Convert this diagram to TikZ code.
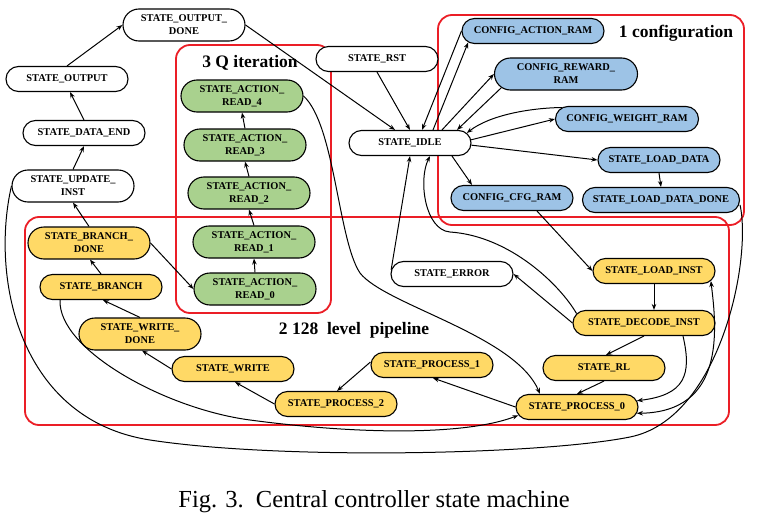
\documentclass[tikz,border=0pt]{standalone}
\usepackage{fontspec}
\setmainfont{Liberation Serif}
\usepackage{tikz}
\usetikzlibrary{shapes.misc, arrows.meta}
\definecolor{stateG}{RGB}{169,209,142}
\definecolor{stateB}{RGB}{157,195,230}
\definecolor{stateY}{RGB}{255,217,102}
\definecolor{zoneR}{RGB}{235,30,38}
\tikzstyle{fsm}=[rounded rectangle, draw=black, line width=1.1pt, minimum width=122pt, minimum height=25pt, inner xsep=0pt, align=center, font=\bfseries\fontsize{10.4}{13}\selectfont]
\tikzstyle{ctrl}=[fsm, fill=white]
\tikzstyle{qit}=[fsm, fill=stateG, minimum height=32pt]
\tikzstyle{conf}=[fsm, fill=stateB]
\tikzstyle{pipe}=[fsm, fill=stateY]
\tikzstyle{twoline}=[minimum height=32pt]
\tikzstyle{zone}=[draw=zoneR, line width=1.8pt, rounded corners=14pt]
\tikzstyle{zonetext}=[font=\bfseries\fontsize{17.5}{20}\selectfont]
\tikzstyle{trans}=[line width=1pt, -{Stealth[length=6pt,width=4.5pt]}]

\begin{document}
\begin{tikzpicture}[x=10pt, y=10pt]
	\useasboundingbox (0,0) rectangle (75.8,-51.4);

	% Groups
	\draw[zone] (17.6,-4.5) rectangle (33.1,-31.3);
	\draw[zone] (43.8,-1.5) rectangle (74.4,-22.5);
	\draw[zone] (2.5,-21.7) rectangle (72.9,-42.5);
	\node[zonetext] (tagQ) at (25.0,-6.3) {3 Q iteration};
	\node[zonetext] (tagConf) at (67.6,-3.3) {1 configuration};
	\node[zonetext] (tagPipe) at (35.4,-33.0) {2 128\ \ level\ \ pipeline};

	% Control states
	\node[ctrl, twoline] (outDone) at (18.4,-2.5) {STATE\_OUTPUT\_\\DONE};
	\node[ctrl] (output) at (6.7,-7.9) {STATE\_OUTPUT};
	\node[ctrl] (dataEnd) at (8.4,-13.3) {STATE\_DATA\_END};
	\node[ctrl, twoline] (updInst) at (7.3,-18.6) {STATE\_UPDATE\_\\INST};
	\node[ctrl] (rst) at (37.7,-5.9) {STATE\_RST};
	\node[ctrl] (idle) at (41.0,-14.3) {STATE\_IDLE};
	\node[ctrl] (error) at (45.2,-27.4) {STATE\_ERROR};

	% Q iteration
	\foreach \i/\x/\y in {0/25.5/-28.9, 1/25.4/-24.2, 2/24.9/-19.3, 3/24.5/-14.5, 4/24.2/-9.6}{
		\node[qit] (rd\i) at (\x,\y) {STATE\_ACTION\_\\READ\_\i};
	}

	% Configuration
	\node[conf, minimum width=142pt] (cfgAction) at (53.3,-3.1) {CONFIG\_ACTION\_RAM};
	\node[conf, twoline, minimum width=143pt] (cfgReward) at (56.6,-7.4) {CONFIG\_REWARD\_\\RAM};
	\node[conf, minimum width=143pt] (cfgWeight) at (62.7,-11.9) {CONFIG\_WEIGHT\_RAM};
	\node[conf] (loadData) at (65.9,-16.0) {STATE\_LOAD\_DATA};
	\node[conf] (cfgCfg) at (51.2,-19.8) {CONFIG\_CFG\_RAM};
	\node[conf, minimum width=157pt] (loadDone) at (66.1,-20.0) {STATE\_LOAD\_DATA\_DONE};

	% Pipeline
	\node[pipe, twoline] (brDone) at (8.9,-24.3) {STATE\_BRANCH\_\\DONE};
	\node[pipe] (branch) at (10.1,-28.7) {STATE\_BRANCH};
	\node[pipe, twoline] (wrDone) at (14.0,-33.4) {STATE\_WRITE\_\\DONE};
	\node[pipe] (write) at (23.3,-36.9) {STATE\_WRITE};
	\node[pipe] (proc2) at (33.6,-40.4) {STATE\_PROCESS\_2};
	\node[pipe] (proc1) at (43.2,-36.5) {STATE\_PROCESS\_1};
	\node[pipe] (proc0) at (57.7,-40.7) {STATE\_PROCESS\_0};
	\node[pipe] (rl) at (60.4,-36.8) {STATE\_RL};
	\node[pipe, minimum width=142pt] (decode) at (64.4,-32.3) {STATE\_DECODE\_INST};
	\node[pipe] (loadInst) at (65.4,-27.1) {STATE\_LOAD\_INST};

	% Transitions on the left
	\draw[trans] (output.north) -- (outDone.west);
	\draw[trans] (dataEnd.north) -- ([xshift=3pt]output.south);
	\draw[trans] (updInst.north) -- (dataEnd.south);
	\draw[trans] (brDone.north) -- (updInst.south);
	\draw[trans] (branch.north) -- ([xshift=1pt]brDone.south);
	\draw[trans] (wrDone.north) -- ([xshift=2pt]branch.south);
	\draw[trans] (write.west) -- ([xshift=2pt]wrDone.south);
	\draw[trans] (proc2.west) -- ([xshift=2pt]write.south);
	\draw[trans] ([yshift=3pt]proc1.west) -- ([xshift=1pt]proc2.north);
	\draw[trans] (proc0.west) -- ([xshift=1pt]proc1.south);
	\draw[trans] (brDone.east) -- (rd0.west);
	\foreach \i/\j in {0/1, 1/2, 2/3, 3/4}{ \draw[trans] (rd\i.north) -- (rd\j.south); }

	% Transitions on the right
	\draw[trans] (rl.south) -- (proc0.north);
	\draw[trans] (decode.south) -- ([xshift=2pt]rl.north);
	\draw[trans] (loadInst.south) -- (loadInst.south |- decode.north);
	\draw[trans] ([xshift=25pt]cfgCfg.south) -- (loadInst.west);
	\draw[trans] (decode.west) -- (error.east);
	\draw[trans] ([xshift=39pt]decode.south) .. controls (69.2,-37.5) and (68.5,-39.5) .. (proc0.6);
	\draw[trans, {Stealth[length=6pt,width=4.5pt]}-{Stealth[length=6pt,width=4.5pt]}] (loadInst.-10)
		.. controls (71.7,-33.0) and (72.5,-41.2) .. (proc0.-6);

	% Around STATE_IDLE
	\draw[trans] (outDone.east) -- ([xshift=-15pt]idle.north);
	\draw[trans] (rst.south) -- (idle.north);
	\draw[trans] (error.176) -- (idle.south);
	\draw[trans] (cfgAction.west) -- ([xshift=12pt]idle.north);
	\draw[trans] ([xshift=23pt]idle.north) -- (cfgAction.190);
	\draw[trans] ([xshift=32pt]idle.north) -- (cfgReward.west);
	\draw[trans] (cfgReward.192) -- ([xshift=47pt]idle.north);
	\draw[trans] (idle.3) -- (cfgWeight.west);
	\draw[trans] (cfgWeight.170) .. controls (53.0,-10.8) and (49.0,-11.5) .. (idle.10);
	\draw[trans] (idle.-2) -- (loadData.west);
	\draw[trans] ([xshift=42pt]idle.south) -- ([xshift=-40pt]cfgCfg.north);
	\draw[trans] (loadData.south) -- (loadDone.north);
	\draw[trans] (decode.172) .. controls (56.0,-28.5) and (51.0,-23.6) .. (45.0,-23.2)
		.. controls (42.5,-23.0) and (41.8,-18.0) .. ([xshift=20pt]idle.south);

	% Long transitions
	\draw[trans] (rd4.east) .. controls (33.5,-12.5) and (33.8,-24.0) .. (36.0,-27.3)
		.. controls (38.5,-30.5) and (51.5,-33.5) .. ([xshift=-37pt]proc0.north);
	\draw[trans] ([xshift=-41pt]branch.south) .. controls (5.8,-35.0) and (16.6,-40.9) .. (25.0,-42.0)
		.. controls (37.0,-43.6) and (47.0,-43.4) .. (proc0.188);
	\draw[line width=1pt] (updInst.west) .. controls (-1.0,-28.0) and (2.0,-42.0) .. (15.0,-44.0)
		.. controls (28.0,-46.0) and (54.0,-45.5) .. (63.0,-43.7)
		.. controls (72.0,-41.9) and (75.2,-26.0) .. ([yshift=-5pt]loadDone.east);

	\node[font=\fontsize{24.5}{28}\selectfont, anchor=base] (caption) at (37.4,-50.7) {Fig. 3.\ \ Central controller state machine};
\end{tikzpicture}
\end{document}
